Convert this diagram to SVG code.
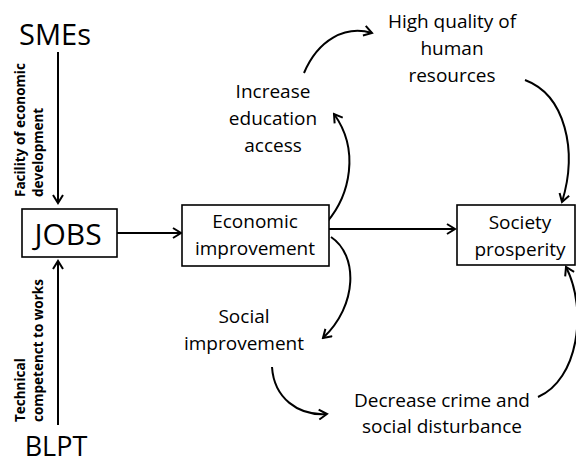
<svg xmlns="http://www.w3.org/2000/svg" width="576" height="463" viewBox="0 0 576 463">
<style>
.t{font-family:"Open Sans","Noto Sans","Liberation Sans",sans-serif;fill:#000;text-anchor:middle}
.m{font-size:19px}
.v{font-family:"Open Sans","Noto Sans","Liberation Sans",sans-serif;font-size:13.5px;font-weight:bold;fill:#000}
.box{fill:#fff;stroke:#000;stroke-width:1.6}
.c{fill:none;stroke:#000;stroke-width:2;marker-end:url(#ah)}
</style>
<defs>
<marker id="ah" viewBox="-10 -6 12 12" refX="0" refY="0" markerWidth="12" markerHeight="12" markerUnits="userSpaceOnUse" orient="auto">
<path d="M-8,-5 L0,0 L-8,5" fill="none" stroke="#000" stroke-width="2"/>
</marker>
</defs>
<rect width="576" height="463" fill="#fff"/>
<g id="connectors">
<path class="c" d="M58,52 L58,203"/>
<path class="c" d="M58,425 L58,261"/>
<path class="c" d="M117,233 L181,233"/>
<path class="c" d="M329,229 L455,229"/>
<path class="c" d="M327,222 C350,195 360,150 334,114"/>
<path class="c" d="M304,73 C318,40 345,25 372,33"/>
<path class="c" d="M525,80 C565,95 578,150 562,202"/>
<path class="c" d="M331,237 C358,255 358,305 323,338"/>
<path class="c" d="M272,367 C274,398 298,416 327,414"/>
<path class="c" d="M538,397 C578,380 588,310 566,267"/>
</g>
<g id="label-facility">
<text class="v" transform="translate(25,197) rotate(-90)">Facility of economic</text>
<text class="v" transform="translate(43,197) rotate(-90)">development</text>
</g>
<g id="label-technical">
<text class="v" transform="translate(25,422) rotate(-90)">Technical</text>
<text class="v" transform="translate(43,422) rotate(-90)">competenct to works</text>
</g>
<g id="smes"><text class="t" x="55" y="45" font-size="29">SMEs</text></g>
<g id="blpt"><text class="t" x="56" y="456" font-size="27">BLPT</text></g>
<g id="jobs">
<rect class="box" x="22" y="209" width="95" height="48"/>
<text class="t" x="68" y="245" font-size="30">JOBS</text>
</g>
<g id="economic">
<rect class="box" x="182" y="205" width="147" height="61"/>
<text class="t m" x="255" y="228">Economic</text>
<text class="t m" x="255" y="255">improvement</text>
</g>
<g id="society">
<rect class="box" x="457" y="205" width="118" height="60"/>
<text class="t m" x="520" y="229">Society</text>
<text class="t m" x="520" y="256">prosperity</text>
</g>
<g id="education">
<text class="t m" x="273" y="98">Increase</text>
<text class="t m" x="273" y="125">education</text>
<text class="t m" x="273" y="152">access</text>
</g>
<g id="human">
<text class="t m" x="452" y="28">High quality of</text>
<text class="t m" x="452" y="55">human</text>
<text class="t m" x="452" y="82">resources</text>
</g>
<g id="social">
<text class="t m" x="244" y="323">Social</text>
<text class="t m" x="244" y="350">improvement</text>
</g>
<g id="crime">
<text class="t m" x="442" y="407">Decrease crime and</text>
<text class="t m" x="442" y="433">social disturbance</text>
</g>
</svg>
